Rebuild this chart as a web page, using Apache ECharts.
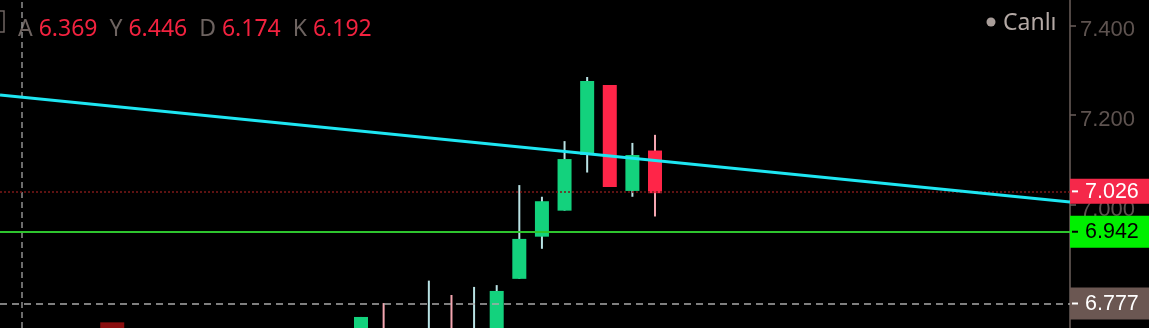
<!DOCTYPE html>
<html><head><meta charset="utf-8">
<script src="https://cdn.jsdelivr.net/npm/echarts@6/dist/echarts.min.js"></script>
<style>html,body{margin:0;padding:0;background:#000;}#c{width:1149px;height:328px;}</style>
</head><body><div id="c"></div>
<script>
// ---- data ----
// bar index (x position in bars) for each candle
const barIndex = [1,16,17,19,20,21,22,23,24,25,26,27,28,29];
const opens  = [6.369,6.71,6.72,6.70,6.72,6.70,6.71,6.835,6.929,6.987,7.111,7.267,7.031,7.121];
const closes = [6.192,6.750,6.71,6.72,6.70,6.72,6.808,6.924,7.008,7.102,7.276,7.040,7.111,7.026];
const lows   = [6.174,6.70,6.70,6.69,6.69,6.69,6.70,6.835,6.902,6.987,7.072,7.040,7.018,6.974];
const highs  = [6.446,6.750,6.781,6.831,6.799,6.817,6.821,7.044,7.018,7.142,7.285,7.267,7.138,7.156];
const darkBarIndex = 5, darkBarValue = 6.738;
const xMin = 0.037, xMax = 47.35;               // visible bar range
const yMin = 6.7254, yMax = 7.4566;             // visible price range
const trendStart = 7.2448, trendEnd = 7.0065;   // trend line at xMin and xMax
const lastPrice = 7.026, levelPrice = 6.942, crossPrice = 6.777;
const crossBar = 1;
const legendLetters = ['A','Y','D','K'];
const yTicks = [6.8, 7.0, 7.2, 7.4];

// ---- build ----
const candleData = barIndex.map((b, k) => [b, opens[k], closes[k], lows[k], highs[k]]);
const UP = '#13d27d', DN = '#ff2548', WUP = '#b9e2e4', WDN = '#f4a6b0';

function boxLabel(bg, fg, h, v) {
  return {
    show: true, position: 'end', distance: 0,
    formatter: '{d| }{v|' + v.toFixed(3) + '}',
    backgroundColor: bg, padding: [0, 11, 0, 2], align: 'left',
    rich: {
      d: { width: 6, height: 2, backgroundColor: fg, verticalAlign: 'middle' },
      v: { color: fg, fontFamily: 'Liberation Sans', fontSize: 21.5, lineHeight: h, padding: [1, 0, 0, 7] }
    }
  };
}

const ci = barIndex.indexOf(crossBar);
const legendVals = [opens[ci], highs[ci], lows[ci], closes[ci]];
const legendText = legendLetters.map((l, k) => '{l|' + l + '} {n|' + legendVals[k].toFixed(3) + '}').join('  ');

const chart = echarts.init(document.getElementById('c'), null, { renderer: 'canvas' });
chart.setOption({
  backgroundColor: '#000',
  animation: false,
  grid: { left: 0, right: 79, top: 0, bottom: 0 },
  xAxis: { type: 'value', min: xMin, max: xMax, show: false },
  yAxis: {
    type: 'value', position: 'right', min: yMin, max: yMax, splitNumber: 4, scale: true,
    axisLine: { show: true, lineStyle: { color: '#6b5f5b', width: 1.5 } },
    axisTick: { show: true, length: 6, lineStyle: { color: '#6b5f5b', width: 1.5 } },
    splitLine: { show: false },
    axisLabel: {
      show: true, margin: 10,
      showMinLabel: false, showMaxLabel: false,
      formatter: v => yTicks.some(t => Math.abs(t - v) < 1e-6) ? '{t|' + v.toFixed(3) + '}' : '',
      rich: { t: { color: '#5e5350', fontFamily: 'Liberation Sans', fontSize: 22, lineHeight: 22, padding: [10, 0, 0, 0] } }
    }
  },
  series: [
    {
      type: 'bar', data: [[darkBarIndex, darkBarValue]], barWidth: 24,
      itemStyle: { color: '#8a0e0f' }, silent: true, z: 1
    },
    {
      type: 'line', data: [], silent: true, z: 3,
      markLine: {
        silent: true, symbol: ['none', 'none'], animation: false,
        data: [
          { xAxis: crossBar, lineStyle: { color: '#8e8e8e', type: [6, 4], width: 1.5 }, label: { show: false } },
          { yAxis: lastPrice, lineStyle: { color: '#7e1818', type: [2, 2], width: 1.5 }, label: boxLabel('#f5284a', '#ffffff', 25, lastPrice) },
          { yAxis: levelPrice, lineStyle: { color: '#2ec42e', type: 'solid', width: 2 }, label: boxLabel('#00f000', '#000000', 32, levelPrice) },
          { yAxis: crossPrice, lineStyle: { color: '#a9a9a9', type: [7, 5], width: 1.5 }, label: boxLabel('#6b5752', '#ffffff', 32, crossPrice) }
        ]
      }
    },
    {
      type: 'custom', data: candleData, clip: true, z: 4,
      encode: { x: 0, y: [1, 2, 3, 4] },
      renderItem: function (params, api) {
        const x = api.value(0), o = api.value(1), c = api.value(2), l = api.value(3), h = api.value(4);
        const pO = api.coord([x, o]), pC = api.coord([x, c]), pL = api.coord([x, l]), pH = api.coord([x, h]);
        const up = c >= o, bw = 14;
        return {
          type: 'group', children: [
            { type: 'line', shape: { x1: pL[0], y1: pL[1], x2: pH[0], y2: pH[1] }, style: { stroke: up ? WUP : WDN, lineWidth: 2 } },
            { type: 'rect', shape: { x: pO[0] - bw / 2, y: Math.min(pO[1], pC[1]), width: bw, height: Math.max(1, Math.abs(pO[1] - pC[1])) }, style: { fill: up ? UP : DN } }
          ]
        };
      }
    },
    {
      type: 'line', data: [[xMin, trendStart], [xMax, trendEnd]], symbol: 'none', silent: true, z: 5,
      lineStyle: { color: '#1ee6f2', width: 3 }
    }
  ],
  graphic: [
    { type: 'rect', shape: { x: -8, y: 11, width: 12, height: 21 }, style: { fill: 'none', stroke: '#6f6461', lineWidth: 1.5 }, silent: true },
    { type: 'text', x: 18, y: 29, silent: true, style: {
        text: legendText, verticalAlign: 'middle',
        rich: {
          l: { fill: '#6d6360', fontFamily: 'Noto Sans', fontSize: 23 },
          n: { fill: '#f2223f', fontFamily: 'Noto Sans', fontSize: 23 }
        },
        fontFamily: 'Noto Sans', fontSize: 23, fill: '#6d6360'
    } },
    { type: 'circle', shape: { cx: 991, cy: 22, r: 4.5 }, style: { fill: '#a89d99' }, silent: true },
    { type: 'text', x: 1003, y: 23, silent: true, style: { text: 'Canlı', verticalAlign: 'middle', fontFamily: 'Noto Sans', fontSize: 23, fill: '#b4a9a5' } }
  ]
});
</script></body></html>
